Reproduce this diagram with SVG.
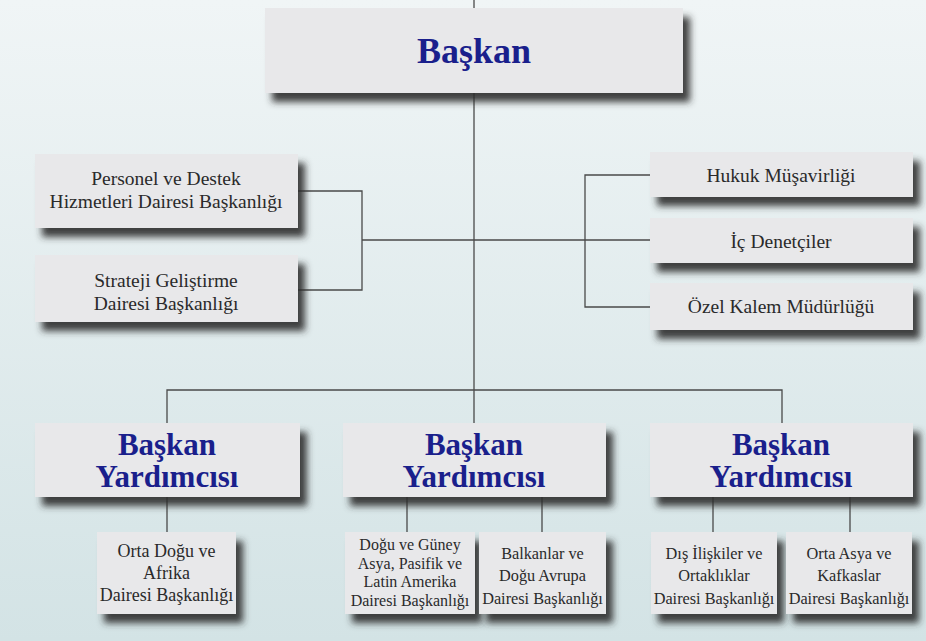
<svg xmlns="http://www.w3.org/2000/svg" width="926" height="641" viewBox="0 0 926 641">
<defs>
<linearGradient id="bg" x1="0" y1="0" x2="0" y2="1">
<stop offset="0" stop-color="#f0f5f6"/>
<stop offset="1" stop-color="#d3e3e5"/>
</linearGradient>
<filter id="sh" x="-10%" y="-20%" width="130%" height="170%">
<feDropShadow dx="7" dy="9" stdDeviation="3.5" flood-color="#2e2e2e" flood-opacity="0.9"/>
</filter>
<style>
.box{fill:#e8e8ea;filter:url(#sh)}
.ln{stroke:#4a4a4a;stroke-width:1.3;fill:none}
.t{fill:#2a2a2a;text-anchor:middle}
.b{font-weight:bold;fill:#1a1f8c;text-anchor:middle}
</style>
</defs>
<rect width="926" height="641" fill="url(#bg)"/>
<g id="connectors" class="ln">
<path d="M474 0V390"/>
<path d="M298 191H362V290H298M362 240H585"/>
<path d="M650 175H585V307H650M585 240H650"/>
<path d="M167 423V390H782V423M474 390V423"/>
<path d="M167 497V532"/>
<path d="M407 497V532M542 497V532"/>
<path d="M713 497V532M850 497V532"/>
</g>
<g font-family="Liberation Serif, Tinos, Times New Roman, DejaVu Serif, serif">
<g id="baskan">
<rect class="box" x="265" y="8" width="418" height="85"/>
<text class="b" x="474" y="63" font-size="36">Başkan</text>
</g>
<g id="personel">
<rect class="box" x="35" y="154" width="263" height="74"/>
<text class="t" x="166" y="185" font-size="19.5">Personel ve Destek</text>
<text class="t" x="166" y="208" font-size="19.5">Hizmetleri Dairesi Başkanlığı</text>
</g>
<g id="strateji">
<rect class="box" x="35" y="255" width="263" height="67"/>
<text class="t" x="166" y="287" font-size="19.5">Strateji Geliştirme</text>
<text class="t" x="166" y="310" font-size="19.5">Dairesi Başkanlığı</text>
</g>
<g id="hukuk">
<rect class="box" x="650" y="152" width="263" height="45"/>
<text class="t" x="781" y="182" font-size="19.5">Hukuk Müşavirliği</text>
</g>
<g id="ic">
<rect class="box" x="650" y="218" width="263" height="45"/>
<text class="t" x="781" y="248" font-size="19.5">İç Denetçiler</text>
</g>
<g id="ozel">
<rect class="box" x="650" y="283" width="263" height="47"/>
<text class="t" x="781" y="313" font-size="19.5">Özel Kalem Müdürlüğü</text>
</g>
<g id="vp1">
<rect class="box" x="35" y="423" width="265" height="74"/>
<text class="b" x="167" y="455" font-size="31">Başkan</text>
<text class="b" x="167" y="487" font-size="31">Yardımcısı</text>
</g>
<g id="vp2">
<rect class="box" x="343" y="423" width="263" height="74"/>
<text class="b" x="474" y="455" font-size="31">Başkan</text>
<text class="b" x="474" y="487" font-size="31">Yardımcısı</text>
</g>
<g id="vp3">
<rect class="box" x="650" y="423" width="263" height="74"/>
<text class="b" x="781" y="455" font-size="31">Başkan</text>
<text class="b" x="781" y="487" font-size="31">Yardımcısı</text>
</g>
<g id="ortadogu">
<rect class="box" x="97" y="532" width="139" height="82"/>
<text class="t" x="166.5" y="557" font-size="18">Orta Doğu ve</text>
<text class="t" x="166.5" y="579" font-size="18">Afrika</text>
<text class="t" x="166.5" y="601" font-size="18">Dairesi Başkanlığı</text>
</g>
<g id="doguguney">
<rect class="box" x="345" y="532" width="130" height="82"/>
<text class="t" x="410" y="550" font-size="16">Doğu ve Güney</text>
<text class="t" x="410" y="568.5" font-size="16">Asya, Pasifik ve</text>
<text class="t" x="410" y="587" font-size="16">Latin Amerika</text>
<text class="t" x="410" y="605.5" font-size="16">Dairesi Başkanlığı</text>
</g>
<g id="balkanlar">
<rect class="box" x="479" y="532" width="127" height="82"/>
<text class="t" x="542.5" y="559" font-size="16.3">Balkanlar ve</text>
<text class="t" x="542.5" y="581" font-size="16.3">Doğu Avrupa</text>
<text class="t" x="542.5" y="604" font-size="16.3">Dairesi Başkanlığı</text>
</g>
<g id="disiliskiler">
<rect class="box" x="651" y="532" width="126" height="82"/>
<text class="t" x="714" y="559" font-size="16.3">Dış İlişkiler ve</text>
<text class="t" x="714" y="581" font-size="16.3">Ortaklıklar</text>
<text class="t" x="714" y="604" font-size="16.3">Dairesi Başkanlığı</text>
</g>
<g id="ortaasya">
<rect class="box" x="786" y="532" width="126" height="82"/>
<text class="t" x="849" y="559" font-size="16.3">Orta Asya ve</text>
<text class="t" x="849" y="581" font-size="16.3">Kafkaslar</text>
<text class="t" x="849" y="604" font-size="16.3">Dairesi Başkanlığı</text>
</g>
</g>
</svg>
